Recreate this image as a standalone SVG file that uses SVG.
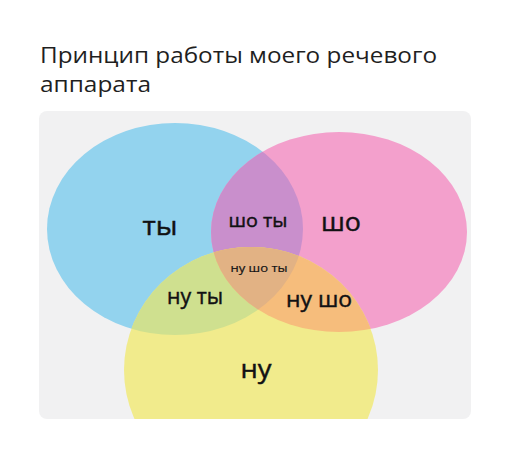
<svg xmlns="http://www.w3.org/2000/svg" width="510" height="465" viewBox="0 0 510 465">
  <style>
    .t { font-family: "Open Sans", "Liberation Sans", sans-serif; fill: #111113; stroke: #111113; stroke-width: 0.45; text-anchor: middle; }
    .title { font-family: "Open Sans", "Liberation Sans", sans-serif; fill: #1f1f1f; font-size: 22px; }
  </style>
  <defs>
    <clipPath id="panelClip"><rect x="39" y="111" width="432" height="308" rx="8"/></clipPath>
    <clipPath id="clipA"><ellipse cx="175" cy="229" rx="128" ry="106"/></clipPath>
    <clipPath id="clipB"><ellipse cx="339" cy="232" rx="128" ry="100"/></clipPath>
    <clipPath id="clipC"><ellipse cx="251" cy="370" rx="127" ry="123"/></clipPath>
  </defs>
  <rect width="510" height="465" fill="#ffffff"/>
  <text class="title" x="40" y="63" textLength="397" lengthAdjust="spacingAndGlyphs">Принцип работы моего речевого</text>
  <text class="title" x="40" y="92" textLength="111" lengthAdjust="spacingAndGlyphs">аппарата</text>
  <rect id="panel" x="39" y="111" width="432" height="308" rx="8" fill="#f1f1f2"/>
  <g clip-path="url(#panelClip)">
    <g id="set-ty"><ellipse cx="175" cy="229" rx="128" ry="106" fill="#93d3ee"/></g>
    <g id="set-sho"><ellipse cx="339" cy="232" rx="128" ry="100" fill="#f3a0cc"/></g>
    <g id="set-nu"><ellipse cx="251" cy="370" rx="127" ry="123" fill="#f1eb8c"/></g>
    <g id="sho-ty" clip-path="url(#clipA)"><ellipse cx="339" cy="232" rx="128" ry="100" fill="#c98fcc"/></g>
    <g id="nu-ty" clip-path="url(#clipA)"><ellipse cx="251" cy="370" rx="127" ry="123" fill="#cfe08f"/></g>
    <g id="nu-sho" clip-path="url(#clipB)"><ellipse cx="251" cy="370" rx="127" ry="123" fill="#f6bd7c"/></g>
    <g id="nu-sho-ty" clip-path="url(#clipA)"><g clip-path="url(#clipB)"><ellipse cx="251" cy="370" rx="127" ry="123" fill="#e2b284"/></g></g>
  </g>
  <g id="labels">
    <text class="t" x="160" y="235" font-size="26" textLength="35" lengthAdjust="spacingAndGlyphs">ты</text>
    <text class="t" x="258" y="227" font-size="19" textLength="59" lengthAdjust="spacingAndGlyphs">шо ты</text>
    <text class="t" x="341" y="231" font-size="26" textLength="40" lengthAdjust="spacingAndGlyphs">шо</text>
    <text class="t" x="259" y="272" font-size="11.5" textLength="57" lengthAdjust="spacingAndGlyphs" style="stroke-width:0.2">ну шо ты</text>
    <text class="t" x="195" y="304" font-size="22" textLength="56" lengthAdjust="spacingAndGlyphs">ну ты</text>
    <text class="t" x="319" y="307" font-size="22" textLength="66" lengthAdjust="spacingAndGlyphs">ну шо</text>
    <text class="t" x="256" y="378" font-size="25" textLength="31" lengthAdjust="spacingAndGlyphs">ну</text>
  </g>
</svg>
